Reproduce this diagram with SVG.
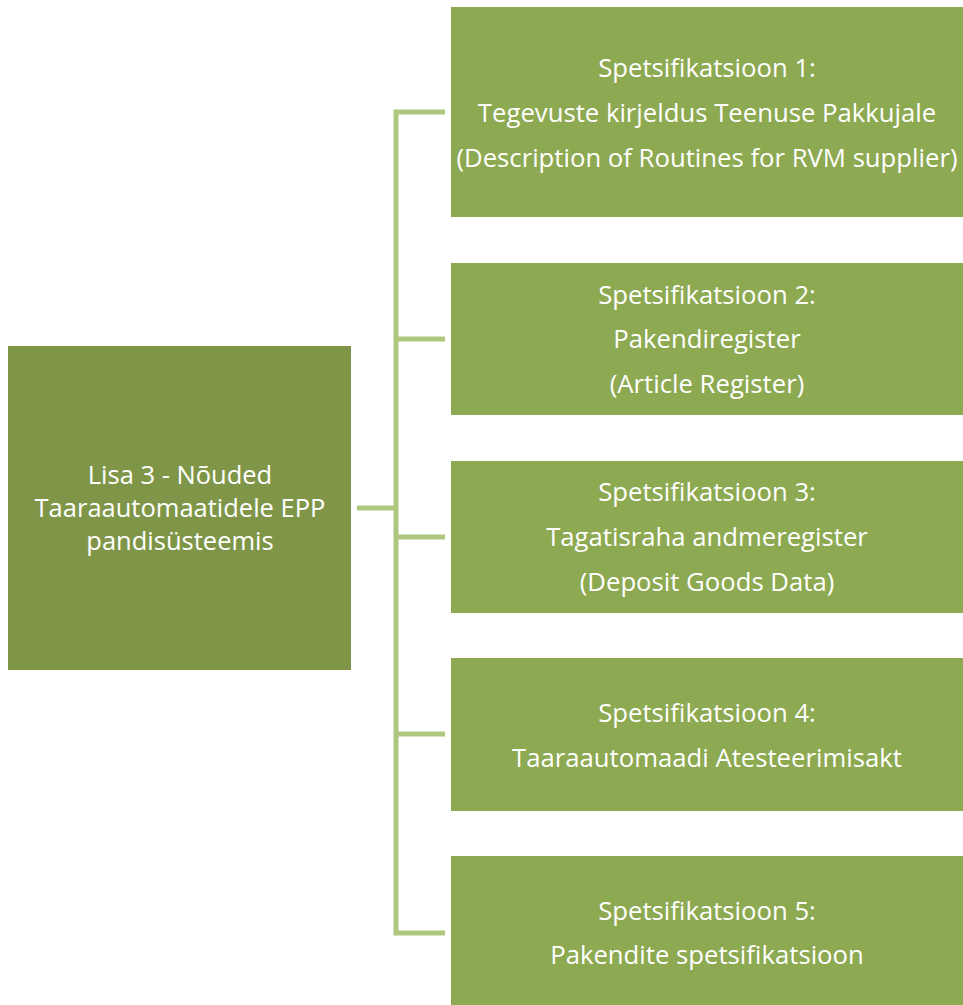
<svg xmlns="http://www.w3.org/2000/svg" width="963" height="1005" viewBox="0 0 963 1005">
<style>
.root{fill:#7F9648}
.box{fill:#8DA951}
.t{font-family:"Open Sans","Liberation Sans",sans-serif;font-size:25.7px;fill:#FFFFFF;text-anchor:middle}
.lt{font-family:"Open Sans","Liberation Sans",sans-serif;font-size:25.5px;fill:#FFFFFF;text-anchor:middle}
.c{fill:none;stroke:#AFC67E;stroke-width:5}
</style>
<rect width="963" height="1005" fill="#FFFFFF"/>
<g id="connectors">
<path class="c" d="M357 508 H396"/>
<path class="c" d="M445 112 H396 V933 H445"/>
<path class="c" d="M396 339 H445"/>
<path class="c" d="M396 537 H445"/>
<path class="c" d="M396 734 H445"/>
</g>
<g id="root">
<rect class="root" x="8" y="346" width="343" height="324"/>
<text class="lt" x="180" y="484">Lisa 3 - Nõuded</text>
<text class="lt" x="180" y="517">Taaraautomaatidele EPP</text>
<text class="lt" x="180" y="550">pandisüsteemis</text>
</g>
<g id="spec1">
<rect class="box" x="451" y="7" width="512" height="210"/>
<text class="t" x="707" y="77">Spetsifikatsioon 1:</text>
<text class="t" x="707" y="122">Tegevuste kirjeldus Teenuse Pakkujale</text>
<text class="t" x="707" y="167">(Description of Routines for RVM supplier)</text>
</g>
<g id="spec2">
<rect class="box" x="451" y="263" width="512" height="152"/>
<text class="t" x="707" y="304">Spetsifikatsioon 2:</text>
<text class="t" x="707" y="348">Pakendiregister</text>
<text class="t" x="707" y="393">(Article Register)</text>
</g>
<g id="spec3">
<rect class="box" x="451" y="461" width="512" height="152"/>
<text class="t" x="707" y="501">Spetsifikatsioon 3:</text>
<text class="t" x="707" y="546">Tagatisraha andmeregister</text>
<text class="t" x="707" y="591">(Deposit Goods Data)</text>
</g>
<g id="spec4">
<rect class="box" x="451" y="658" width="512" height="153"/>
<text class="t" x="707" y="722">Spetsifikatsioon 4:</text>
<text class="t" x="707" y="767">Taaraautomaadi Atesteerimisakt</text>
</g>
<g id="spec5">
<rect class="box" x="451" y="856" width="512" height="149"/>
<text class="t" x="707" y="920">Spetsifikatsioon 5:</text>
<text class="t" x="707" y="964">Pakendite spetsifikatsioon</text>
</g>
</svg>
